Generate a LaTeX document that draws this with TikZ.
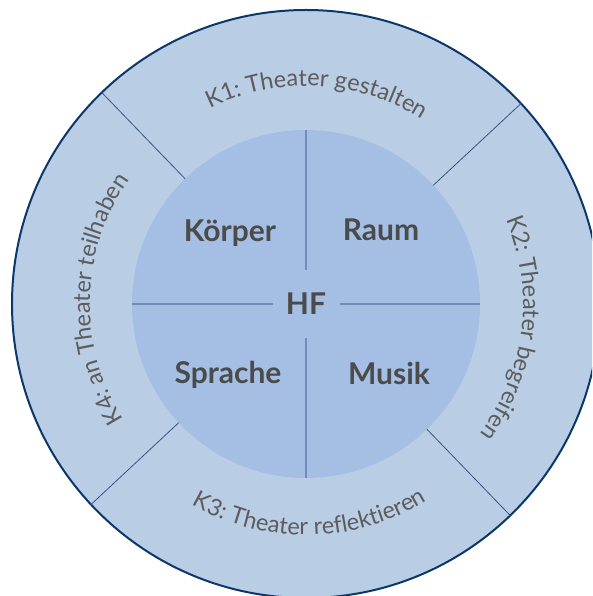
\documentclass[tikz,border=0pt]{standalone}
\usepackage{fontspec}
\setmainfont{Lato}
\usepackage{tikz}
\usetikzlibrary{decorations.text}
\usepackage{xcolor}
\definecolor{ringBlue}{RGB}{185, 205, 229}
\definecolor{coreBlue}{RGB}{164, 190, 228}
\definecolor{rimNavy}{RGB}{12, 55, 105}
\definecolor{spokeBlue}{RGB}{55, 85, 130}
\definecolor{crossBlue}{RGB}{114, 140, 186}
\definecolor{labelGray}{RGB}{75, 75, 75}
\definecolor{ringGray}{RGB}{92, 92, 92}
\newcommand{\ringfont}{\fontsize{23.5}{23.5}\selectfont\color{ringGray}}

\begin{document}
\begin{tikzpicture}[
    x=1pt, y=1pt,
    rim/.style={circle, draw=rimNavy, fill=ringBlue, line width=2pt, minimum size=588pt, inner sep=0pt, outer sep=0pt},
    core/.style={circle, fill=coreBlue, minimum size=348pt, inner sep=0pt, outer sep=0pt},
    hub/.style={rectangle, minimum width=67pt, minimum height=68pt, inner sep=0pt, outer sep=0pt, font=\fontsize{30}{30}\selectfont\bfseries, text=labelGray},
    field/.style={anchor=base, font=\fontsize{30}{30}\selectfont\bfseries, text=labelGray},
    spoke/.style={draw=spokeBlue, line width=0.8pt},
    crossline/.style={draw=crossBlue, line width=2pt},
    ringlabel/.style={decorate, decoration={text along path, text align=center, text={|\ringfont|#1}}},
]
\clip (-306, -292) rectangle (286, 304);
% RINGS
\node[rim] (rim) at (0, 0) {};
\node[core] (core) at (0, 0) {};
% SPOKES
\draw[spoke] (core.134) -- (rim.134);
\draw[spoke] (core.43.5) -- (rim.43.5);
\draw[spoke] (core.-46.5) -- (rim.-46.5);
\draw[spoke] (core.223.5) -- (rim.223.5);
% CENTRE
\node[hub] (hf) at (0, 0) {HF};
\draw[crossline] (core.west) -- (hf.west);
\draw[crossline] (hf.east) -- (core.east);
\draw[crossline] (core.north) -- (hf.north);
\draw[crossline] (hf.south) -- (core.south);
\node[field] (koerper) at (-76, 62) {Körper};
\node[field] (raum) at (75, 63) {Raum};
\node[field] (sprache) at (-78, -80) {Sprache};
\node[field] (musik) at (83, -81) {Musik};
% RING LABELS
\path[ringlabel={K1: Theater gestalten}] (167:218) arc[start angle=167, end angle=7, radius=218];
\path[ringlabel={K2: Theater begreifen}] (73:217) arc[start angle=73, end angle=-87, radius=217];
\path[ringlabel={K3: Theater reflektieren}] (-169:231) arc[start angle=-169, end angle=-9, radius=231];
\path[ringlabel={K4: an Theater teilhaben}] (258.5:216) arc[start angle=258.5, end angle=98.5, radius=216];
\end{tikzpicture}
\end{document}
